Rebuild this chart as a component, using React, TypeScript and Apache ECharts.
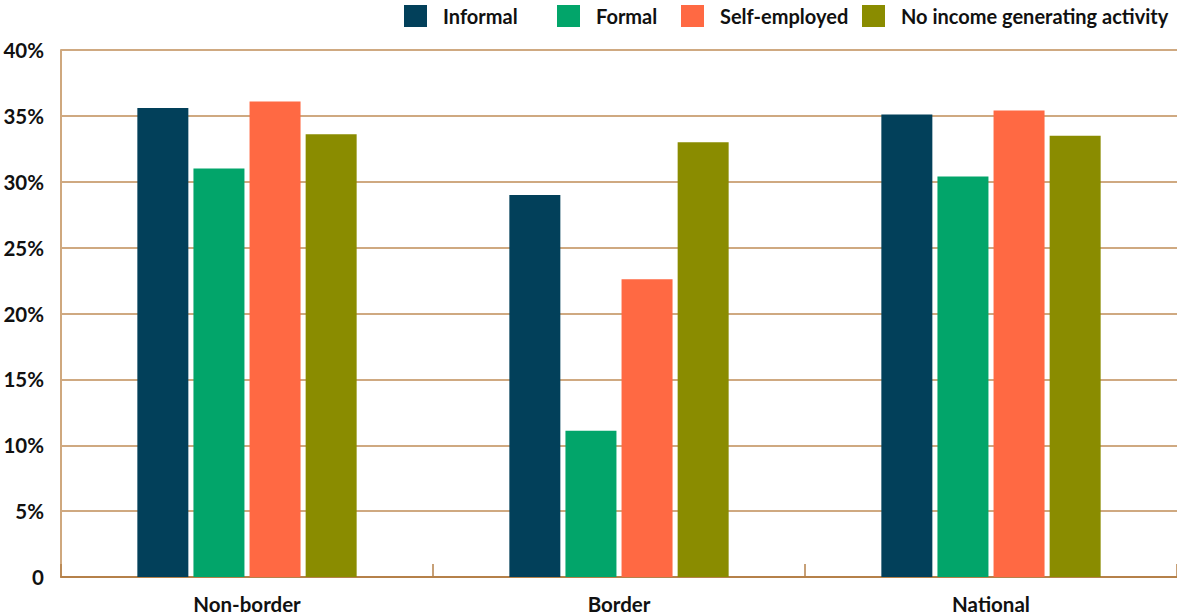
import React, { useEffect, useRef } from "react";
import * as echarts from "echarts";

const categories = ["Non-border", "Border", "National"];
const seriesNames = ["Informal", "Formal", "Self-employed", "No income generating activity"];
const informal = [35.6, 29.0, 35.1];
const formal = [31.0, 11.1, 30.4];
const selfEmployed = [36.1, 22.6, 35.4];
const noIncome = [33.6, 33.0, 33.5];
const colors = ["#02405A", "#02A56A", "#FF6943", "#8A8C00"];
const yTicks = [0, 5, 10, 15, 20, 25, 30, 35, 40];
const legendLefts = [399, 552, 676, 857];

export default function App() {
  const ref = useRef<HTMLDivElement>(null);
  useEffect(() => {
    document.body.style.margin = "0";
    const chart = echarts.init(ref.current!, null, { renderer: "svg" });
    const data = [informal, formal, selfEmployed, noIncome];
    chart.setOption({
      animation: false,
      textStyle: { fontFamily: "Lato" },
      legend: seriesNames.map((name, i) => ({
        top: 0,
        left: legendLefts[i],
        itemWidth: 23,
        itemHeight: 22,
        icon: "rect",
        textStyle: { fontFamily: "Lato", fontWeight: "bold", fontSize: 20, color: "#111", padding: [0, 0, 0, 11] },
        data: [name],
      })),
      grid: { left: 61, right: 0, top: 50, bottom: 38, containLabel: false },
      xAxis: {
        type: "category",
        data: categories,
        axisLine: { lineStyle: { color: "#B5814A", width: 2 } },
        axisTick: { show: true, inside: true, length: 13, lineStyle: { color: "#B5814A", width: 1.5 } },
        axisLabel: { fontFamily: "Lato", fontWeight: "bold", fontSize: 20.5, color: "#111", margin: 16 },
      },
      yAxis: {
        type: "value",
        min: 0,
        max: 40,
        interval: 5,
        axisLine: { show: true, lineStyle: { color: "#CFA87E", width: 2 } },
        axisTick: { show: false },
        splitLine: { lineStyle: { color: "#BF8D57", width: 1.5 } },
        axisLabel: {
          fontFamily: "Lato",
          fontWeight: "bold",
          fontSize: 20.5,
          color: "#111",
          margin: 17,
          formatter: (v: number) => (yTicks.includes(v) && v !== 0 ? v + "%" : "0"),
        },
      },
      series: seriesNames.map((name, i) => ({
        name,
        type: "bar",
        data: data[i],
        barWidth: 51,
        barGap: "10%",
        itemStyle: { color: colors[i] },
      })),
    });
    return () => chart.dispose();
  }, []);
  return <div ref={ref} style={{ width: 1177, height: 615 }} />;
}
